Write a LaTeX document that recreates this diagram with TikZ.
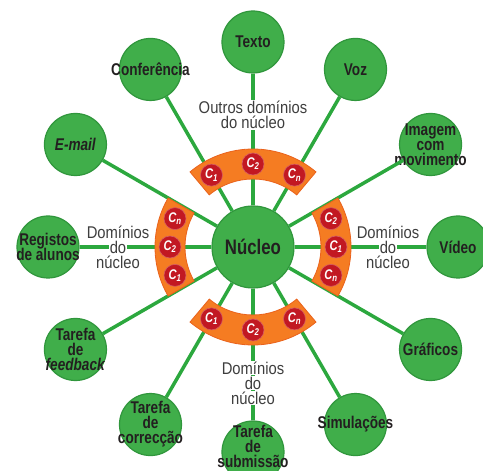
\documentclass[tikz,border=0pt]{standalone}
\usepackage{fontspec}
\setmainfont{Liberation Sans}[FakeStretch=0.8]
\newfontfamily\greyfont{Liberation Sans}[FakeStretch=0.87]
\definecolor{leafgreen}{RGB}{64,174,74}
\definecolor{rimgreen}{RGB}{48,150,60}
\definecolor{linkgreen}{RGB}{44,168,62}
\definecolor{bandorange}{RGB}{245,124,34}
\definecolor{rimorange}{RGB}{234,98,28}
\definecolor{cred}{RGB}{194,24,34}
\definecolor{inkgrey}{RGB}{62,62,62}
\definecolor{ink}{RGB}{35,31,32}
\newcommand{\wbox}[1]{{\setlength{\fboxsep}{1pt}\colorbox{white}{#1}}}
\newcommand{\tightlines}{\setlength{\lineskiplimit}{-20pt}}
\newcommand{\leaffont}{\bfseries\fontsize{17}{15}\selectfont\tightlines}
\newcommand{\greyfontsize}{\greyfont\fontsize{17}{15}\selectfont\tightlines}

\begin{document}
\begin{tikzpicture}[-,thick,
    leaf node/.style={circle,draw=rimgreen,line width=1.2pt,fill=leafgreen,minimum size=62pt,inner sep=0pt},
    leaf text/.style={align=center,text=ink,inner sep=0pt,font=\leaffont},
    core node/.style={circle,draw=rimgreen,line width=1.2pt,fill=leafgreen,minimum size=82pt,inner sep=0pt,text=ink,font=\bfseries\fontsize{21}{21}\selectfont},
    band/.style={fill=bandorange,draw=rimorange,line width=0.8pt},
    c node/.style={circle,fill=cred,draw=cred!70!white,line width=0.6pt,minimum size=22pt,inner sep=0pt,text=white,font=\bfseries\itshape\fontsize{14}{14}\selectfont},
    grey label/.style={align=center,text=inkgrey,inner sep=0pt,font=\greyfontsize}]
    \useasboundingbox (-253pt,-224pt) rectangle (230pt,247pt);

    % outer ring
    \node[leaf node,label={[leaf text]center:Texto}] (texto) at (90:205pt) {};
    \node[leaf node,label={[leaf text]center:Voz}] (voz) at (60:205pt) {};
    \node[leaf node,label={[leaf text]center:Imagem\\com\\movimento}] (imagem) at (30:205pt) {};
    \node[leaf node,label={[leaf text]center:Vídeo}] (video) at (0:205pt) {};
    \node[leaf node,label={[leaf text]center:Gráficos}] (graficos) at (-30:205pt) {};
    \node[leaf node,label={[leaf text]center:Simulações}] (simulacoes) at (-60:205pt) {};
    \node[leaf node,label={[leaf text,yshift=6pt]center:Tarefa\\de\\submissão}] (submissao) at (-90:205pt) {};
    \node[leaf node,label={[leaf text]center:Tarefa\\de\\correcção}] (correccao) at (-120:205pt) {};
    \node[leaf node,label={[leaf text]center:Tarefa\\de\\\textit{feedback}}] (feedback) at (-150:205pt) {};
    \node[leaf node,label={[leaf text]center:Registos\\de alunos}] (registos) at (180:205pt) {};
    \node[leaf node,label={[leaf text]center:\textit{E-mail}}] (email) at (150:205pt) {};
    \node[leaf node,label={[leaf text]center:Conferência}] (conferencia) at (120:205pt) {};

    \node[core node] (nucleo) at (0,0) {Núcleo};

    \path[every edge/.style={draw=linkgreen,line width=3.5pt}]
        (nucleo) edge (texto)
        (nucleo) edge (voz)
        (nucleo) edge (imagem)
        (nucleo) edge (video)
        (nucleo) edge (graficos)
        (nucleo) edge (simulacoes)
        (nucleo) edge (submissao)
        (nucleo) edge (correccao)
        (nucleo) edge (feedback)
        (nucleo) edge (registos)
        (nucleo) edge (email)
        (nucleo) edge (conferencia)
        ;

    % domain bands
    \path[band] (50:98pt) arc[start angle=50,end angle=130,radius=98pt] -- (130:68pt) arc[start angle=130,end angle=50,radius=68pt] -- cycle;
    \path[band] (230:98pt) arc[start angle=230,end angle=310,radius=98pt] -- (310:68pt) arc[start angle=310,end angle=230,radius=68pt] -- cycle;
    \path[band] (150:98pt) arc[start angle=150,end angle=210,radius=98pt] -- (210:68pt) arc[start angle=210,end angle=150,radius=68pt] -- cycle;
    \path[band] (-30:98pt) arc[start angle=-30,end angle=30,radius=98pt] -- (30:68pt) arc[start angle=30,end angle=-30,radius=68pt] -- cycle;

    \node[c node] (t1) at (120:83pt) {C\textsubscript{1}};
    \node[c node] (t2) at (90:83pt) {C\textsubscript{2}};
    \node[c node] (tn) at (60:83pt) {C\textsubscript{n}};
    \node[c node] (b1) at (240:83pt) {C\textsubscript{1}};
    \node[c node] (b2) at (270:83pt) {C\textsubscript{2}};
    \node[c node] (bn) at (300:83pt) {C\textsubscript{n}};
    \node[c node] (ln) at (160:83pt) {C\textsubscript{n}};
    \node[c node] (l2) at (180:83pt) {C\textsubscript{2}};
    \node[c node] (l1) at (200:83pt) {C\textsubscript{1}};
    \node[c node] (r2) at (20:83pt) {C\textsubscript{2}};
    \node[c node] (r1) at (0:83pt) {C\textsubscript{1}};
    \node[c node] (rn) at (-20:83pt) {C\textsubscript{n}};

    \node[grey label] (outros) at (90:132pt) {\wbox{Outros domínios}\\\wbox{do núcleo}};
    \node[grey label] (domleft) at (180:135pt) {\wbox{Domínios}\\\wbox{do}\\\wbox{núcleo}};
    \node[grey label] (domright) at (0:135pt) {\wbox{Domínios}\\\wbox{do}\\\wbox{núcleo}};
    \node[grey label] (dombottom) at (270:136pt) {\wbox{Domínios}\\\wbox{do}\\\wbox{núcleo}};
\end{tikzpicture}
\end{document}
